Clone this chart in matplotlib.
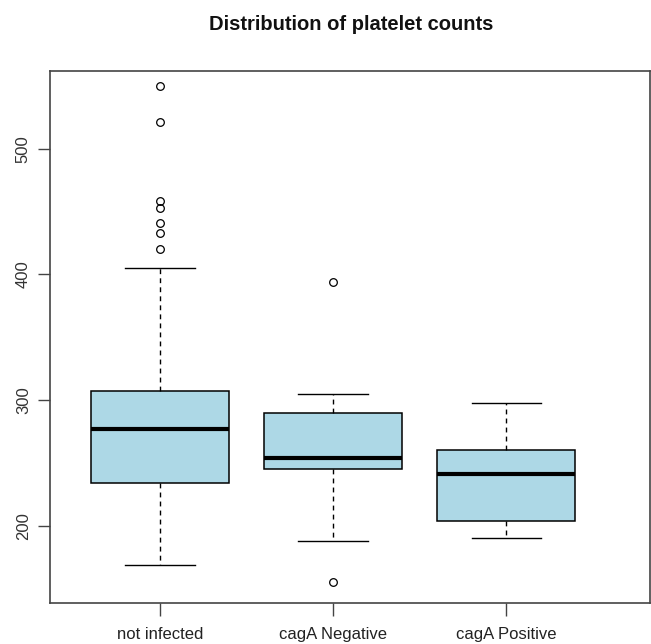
import matplotlib
matplotlib.use("Agg")
import matplotlib.pyplot as plt

plt.rcParams['font.family'] = ['Liberation Sans', 'DejaVu Sans']

categories = ["not infected", "cagA Negative", "cagA Positive"]
q1 = [234, 245, 204]
median = [277, 254, 241]
q3 = [307, 290, 260]
whisker_low = [169, 188, 190]
whisker_high = [405, 305, 298]
outliers = [
    [550, 521, 458, 453, 441, 433, 420],
    [394, 155],
    [],
]
y_ticks = [200, 300, 400, 500]
title = "Distribution of platelet counts"

fig = plt.figure(figsize=(6.51, 6.44), dpi=100)
ax = fig.add_axes([0.0773, 0.0637, 0.9213, 0.8265])

stats = []
for i, c in enumerate(categories):
    stats.append(dict(label=c, q1=q1[i], med=median[i], q3=q3[i],
                      whislo=whisker_low[i], whishi=whisker_high[i],
                      fliers=outliers[i]))

positions = list(range(1, len(categories) + 1))
ax.bxp(stats, positions=positions, widths=0.8, patch_artist=True,
       boxprops=dict(facecolor="#ADD8E6", edgecolor="black", linewidth=1.1),
       medianprops=dict(color="black", linewidth=3),
       whiskerprops=dict(color="black", linewidth=1, linestyle=(0, (3.5, 3))),
       capprops=dict(color="black", linewidth=1),
       capwidths=0.4,
       flierprops=dict(marker="o", markerfacecolor="none", markeredgecolor="black",
                       markersize=5.5, markeredgewidth=0.9))

ax.set_xlim(0.366, 3.832)
ax.set_ylim(138.5, 562)
ax.set_yticks(y_ticks)
ax.set_yticklabels([str(t) for t in y_ticks], rotation=90, va="center", fontsize=12, color="#333333")
ax.set_xticks(positions)
ax.set_xticklabels(categories, fontsize=12, color="#222222")
ax.tick_params(axis="both", length=9, width=1, color="#444444")
ax.tick_params(axis="y", pad=5)
ax.tick_params(axis="x", pad=8)
for s in ax.spines.values():
    s.set_color("#444444")
    s.set_linewidth(1.2)

fig.text(0.5392, 1 - 25 / 644, title, ha="center", va="center",
         fontsize=14.5, fontweight="bold", color="#111111")

fig.savefig("out.png", dpi=100)
